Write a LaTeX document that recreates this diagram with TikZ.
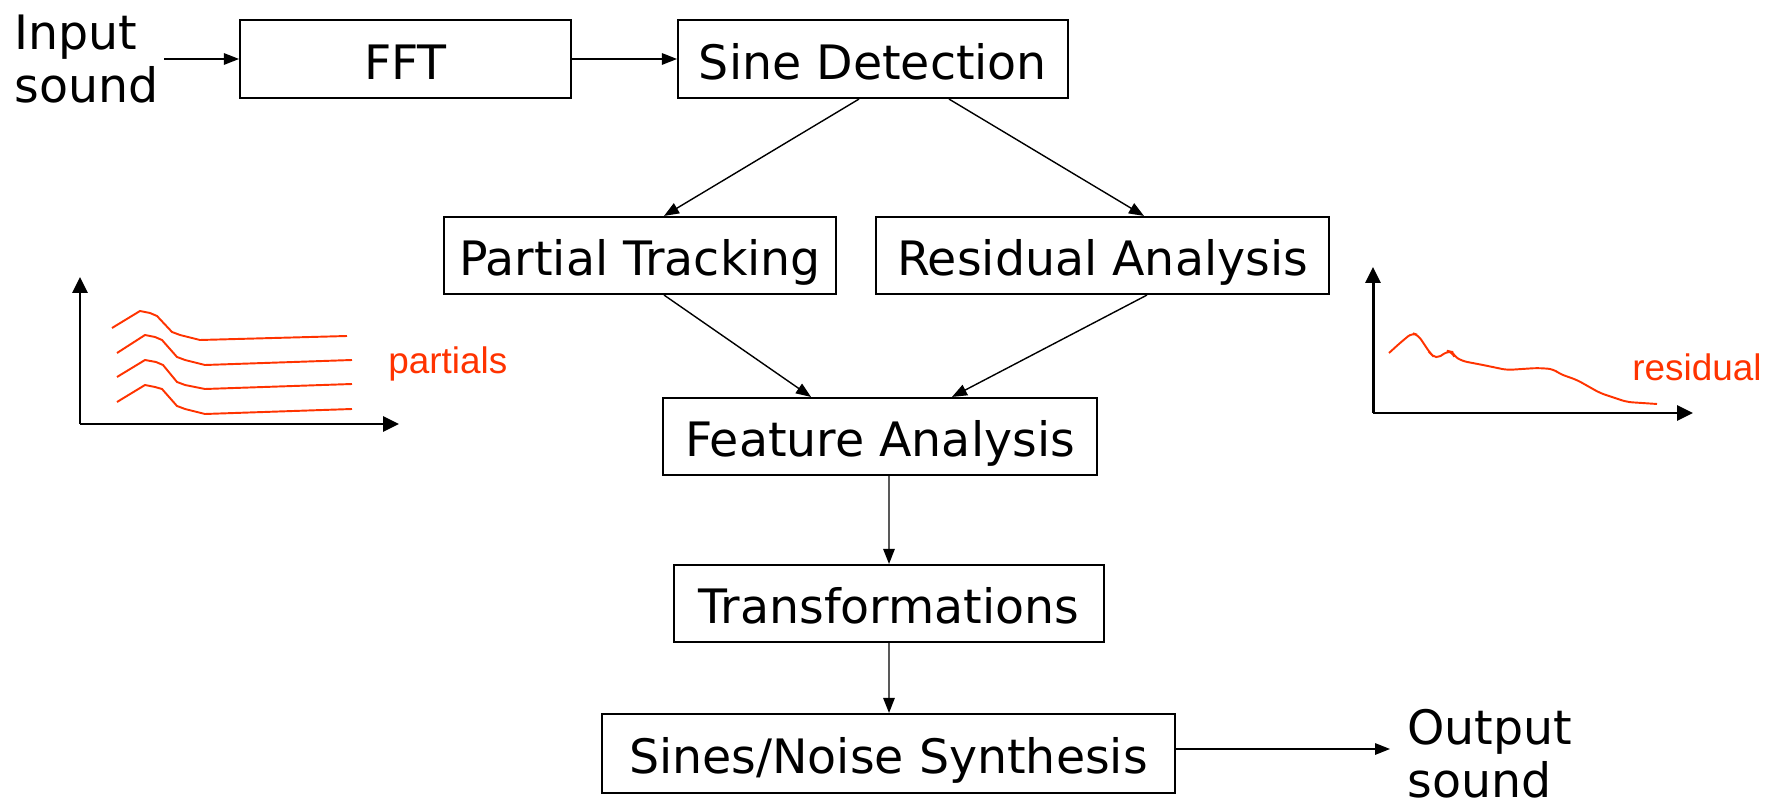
\documentclass[tikz,border=0pt]{standalone}
\usepackage{fontspec}
\setmainfont{DejaVu Sans}
\newfontfamily\redfont{Liberation Sans}
\usetikzlibrary{arrows.meta}
\definecolor{redline}{RGB}{255,51,0}
\begin{document}
\begin{tikzpicture}[x=0.02cm,y=-0.02cm,
  box/.style={draw=black,line width=1.2pt,inner sep=0pt,
    font=\fontsize{27}{30}\selectfont,text height=28pt,text depth=5pt},
  conn/.style={line width=0.8pt,-{Triangle[length=0.3cm,width=0.23cm]}},
  axis/.style={line width=1.7pt,-{Triangle[length=0.32cm,width=0.3cm]}},
  plain/.style={font=\fontsize{27}{30}\selectfont,align=left,inner sep=0pt},
  redlabel/.style={text=redline,font=\redfont\fontsize{21}{24}\selectfont,inner sep=0pt},
  partial/.style={draw=redline,line width=1.1pt}
]
\useasboundingbox (0,0) rectangle (1772,807);

% nodes
\node[plain,anchor=west] (in) at (14,59) {Input\\sound};
\node[box,minimum width=6.62cm,minimum height=1.56cm] (fft) at (405.5,59) {FFT};
\node[box,minimum width=7.8cm,minimum height=1.56cm] (sine) at (873,59) {Sine Detection};
\node[box,minimum width=7.84cm,minimum height=1.54cm] (pt) at (640,255.5) {Partial Tracking};
\node[box,minimum width=9.06cm,minimum height=1.54cm] (ra) at (1102.5,255.5) {Residual Analysis};
\node[box,minimum width=8.68cm,minimum height=1.54cm] (fa) at (880,436.5) {Feature Analysis};
\node[box,minimum width=8.6cm,minimum height=1.54cm] (tr) at (889,603.5) {Transformations};
\node[box,minimum width=11.46cm,minimum height=1.58cm] (syn) at (888.5,753.5) {Sines/Noise Synthesis};
\node[plain,anchor=west] (out) at (1407,754) {Output\\sound};

\coordinate (inend) at (164,59);
\coordinate (outend) at (1390,749);

% connectors
\draw[conn] (inend) -- (fft.west);
\draw[conn] (fft.east) -- (sine.west);
\draw[conn] ([xshift=-0.28cm]sine.south) -- ([xshift=0.48cm]pt.north);
\draw[conn] ([xshift=1.52cm]sine.south) -- ([xshift=0.83cm]ra.north);
\draw[conn] ([xshift=0.48cm]pt.south) -- ([xshift=-1.38cm]fa.north);
\draw[conn] ([xshift=0.89cm]ra.south) -- ([xshift=1.44cm]fa.north);
\draw[conn] ([xshift=0.18cm]fa.south) -- (tr.north);
\draw[conn] (tr.south) -- ([xshift=0.01cm]syn.north);
\draw[conn] (syn.east |- outend) -- (outend);

% partials graph
\coordinate (pO) at (80,424);
\coordinate (pY) at (80,277);
\coordinate (pX) at (399,424);
\draw[axis] (pO) -- (pY);
\draw[axis] (pO) -- (pX);
\draw[partial] (112,328) -- (140,311) -- (150,313) -- (157,316) -- (172,332) -- (180,335) -- (200,340) -- (347,336);
\draw[partial] (117,353) -- (145,335) -- (155,337) -- (162,340) -- (177,357) -- (185,360) -- (205,365) -- (352,360);
\draw[partial] (117,377) -- (145,360) -- (156,362) -- (163,365) -- (177,382) -- (185,385) -- (205,389) -- (352,384);
\draw[partial] (117,402) -- (145,385) -- (155,387) -- (162,389) -- (177,406) -- (185,409) -- (205,414) -- (352,409);
\node[redlabel,anchor=west] (plab) at (388,364) {partials};

% residual graph
\coordinate (rO) at (1373,413);
\coordinate (rY) at (1373,267);
\coordinate (rX) at (1693,413);
\draw[axis] (rO) -- (rY);
\draw[axis] (rO) -- (rX);
\draw[partial,rounded corners=3pt] (1389,353) -- (1400,343) -- (1412,333) -- (1418,335) -- (1430,353) -- (1436,359) -- (1448,351) -- (1452,352) -- (1454,356) -- (1462,361) -- (1483,365) -- (1507,370) -- (1537,368) -- (1553,369) -- (1560,374) -- (1577,380) -- (1600,393) -- (1627,402) -- (1657,404);
\node[redlabel,anchor=west] (rlab) at (1632,367) {residual};
\end{tikzpicture}
\end{document}
